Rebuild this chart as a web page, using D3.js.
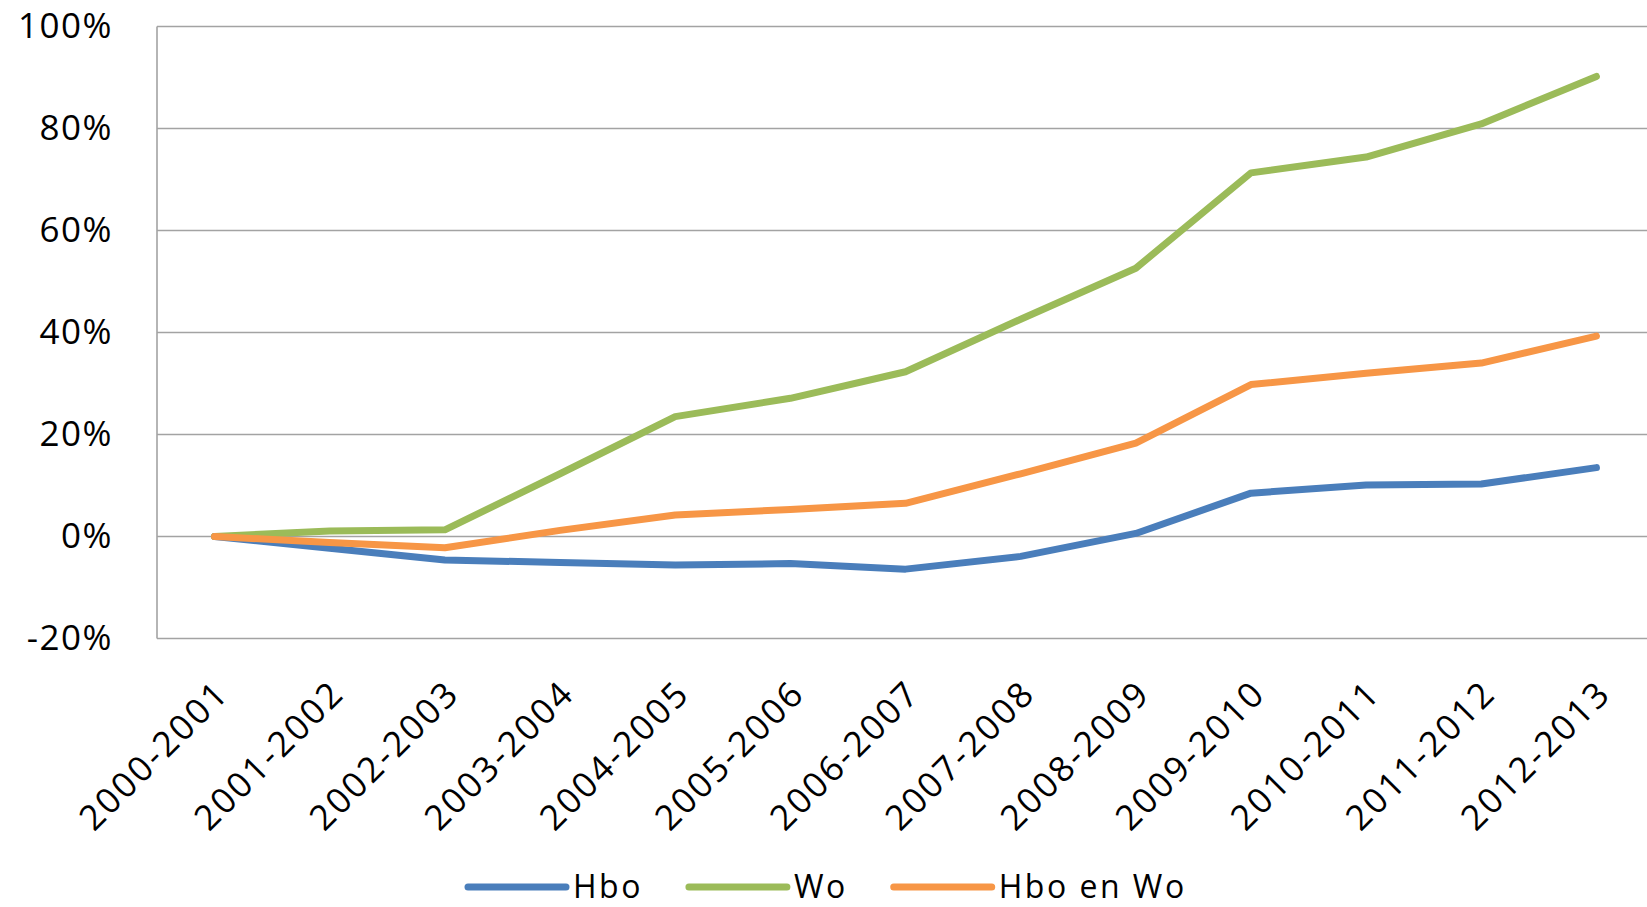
<!DOCTYPE html>
<html>
<head>
<meta charset="utf-8">
<script src="https://cdn.jsdelivr.net/npm/d3@7"></script>
<style>
  body { margin: 0; background: #fff; }
  svg text { font-family: "Open Sans", sans-serif; fill: #000; }
</style>
</head>
<body>
<div id="chart"></div>
<script>
// data (percent growth since 2000-2001)
var years = ["2000-2001","2001-2002","2002-2003","2003-2004","2004-2005","2005-2006","2006-2007",
             "2007-2008","2008-2009","2009-2010","2010-2011","2011-2012","2012-2013"];
var hbo   = [0, -2.3, -4.6, -5.1, -5.6, -5.3, -6.4, -3.9, 0.6, 8.5, 10.1, 10.3, 13.5];
var wo    = [0, 1.1, 1.3, 12.3, 23.5, 27.1, 32.3, 42.6, 52.6, 71.3, 74.4, 80.9, 90.2];
var hboWo = [0, -1.2, -2.2, 1.2, 4.2, 5.3, 6.5, 12.3, 18.3, 29.8, 32.0, 34.0, 39.3];
var yTicks = [-20, 0, 20, 40, 60, 80, 100];
var seriesNames = ["Hbo", "Wo", "Hbo en Wo"];

var series = [
  {name: seriesNames[0], values: hbo,   color: "#4a7ebb"},
  {name: seriesNames[1], values: wo,    color: "#9bbb59"},
  {name: seriesNames[2], values: hboWo, color: "#f79646"}
];

var W = 1647, H = 907;
var margin = {top: 26.5, left: 157, right: -7, bottom: 268.5};

var svg = d3.select("#chart").append("svg")
    .attr("width", W)
    .attr("height", H);

var x = d3.scalePoint().domain(years)
    .range([margin.left, W - margin.right]).padding(0.5);
var y = d3.scaleLinear().domain([-20, 100])
    .range([H - margin.bottom, margin.top]);

// gridlines
svg.append("g").selectAll("line")
    .data(yTicks)
    .enter()
    .append("line")
    .attr("x1", margin.left)
    .attr("x2", W)
    .attr("y1", function(d){ return y(d); })
    .attr("y2", function(d){ return y(d); })
    .style("stroke", "#a3a3a3")
    .style("stroke-width", 1.6);

// left axis line
svg.append("line")
    .attr("x1", margin.left).attr("x2", margin.left)
    .attr("y1", y(100)).attr("y2", y(-20))
    .style("stroke", "#a3a3a3")
    .style("stroke-width", 1.6);

// y labels
var yAxis = svg.append("g")
    .attr("transform", "translate(" + margin.left + ",0)")
    .call(d3.axisLeft(y).tickValues(yTicks).tickSize(0).tickPadding(44)
          .tickFormat(function(d){ return d + "%"; }));
yAxis.select(".domain").remove();
yAxis.selectAll("text")
    .style("font-size", "35px")
    .style("letter-spacing", "1.5px")
    .attr("fill", "#000");

// x labels
var xAxis = svg.append("g")
    .attr("transform", "translate(0," + y(-20) + ")")
    .call(d3.axisBottom(x).tickSize(0));
xAxis.select(".domain").remove();
xAxis.selectAll("text")
    .style("font-size", "35px")
    .style("letter-spacing", "2.5px")
    .attr("fill", "#000")
    .attr("text-anchor", "end")
    .attr("dy", null)
    .attr("y", 0)
    .attr("dominant-baseline", "hanging")
    .attr("transform", "translate(-5,36) rotate(-45)");

// lines
var line = d3.line()
    .x(function(d, i){ return x(years[i]); })
    .y(function(d){ return y(d); });

svg.append("g").selectAll("path")
    .data(series)
    .enter()
    .append("path")
    .attr("d", function(s){ return line(s.values); })
    .style("fill", "none")
    .style("stroke", function(s){ return s.color; })
    .style("stroke-width", 7)
    .style("stroke-linejoin", "round")
    .style("stroke-linecap", "round");

// legend
var legendY = 885;
var lx = 468;
series.forEach(function(s){
  svg.append("line")
      .attr("x1", lx).attr("x2", lx + 98)
      .attr("y1", legendY + 2).attr("y2", legendY + 2)
      .style("stroke", s.color)
      .style("stroke-width", 7)
      .style("stroke-linecap", "round");
  var t = svg.append("text")
      .attr("x", lx + 105)
      .attr("y", legendY)
      .attr("dominant-baseline", "central")
      .style("font-size", "32px")
      .style("letter-spacing", "2.5px")
      .text(s.name);
  lx = lx + 105 + t.node().getComputedTextLength() + 46;
});
</script>
</body>
</html>
